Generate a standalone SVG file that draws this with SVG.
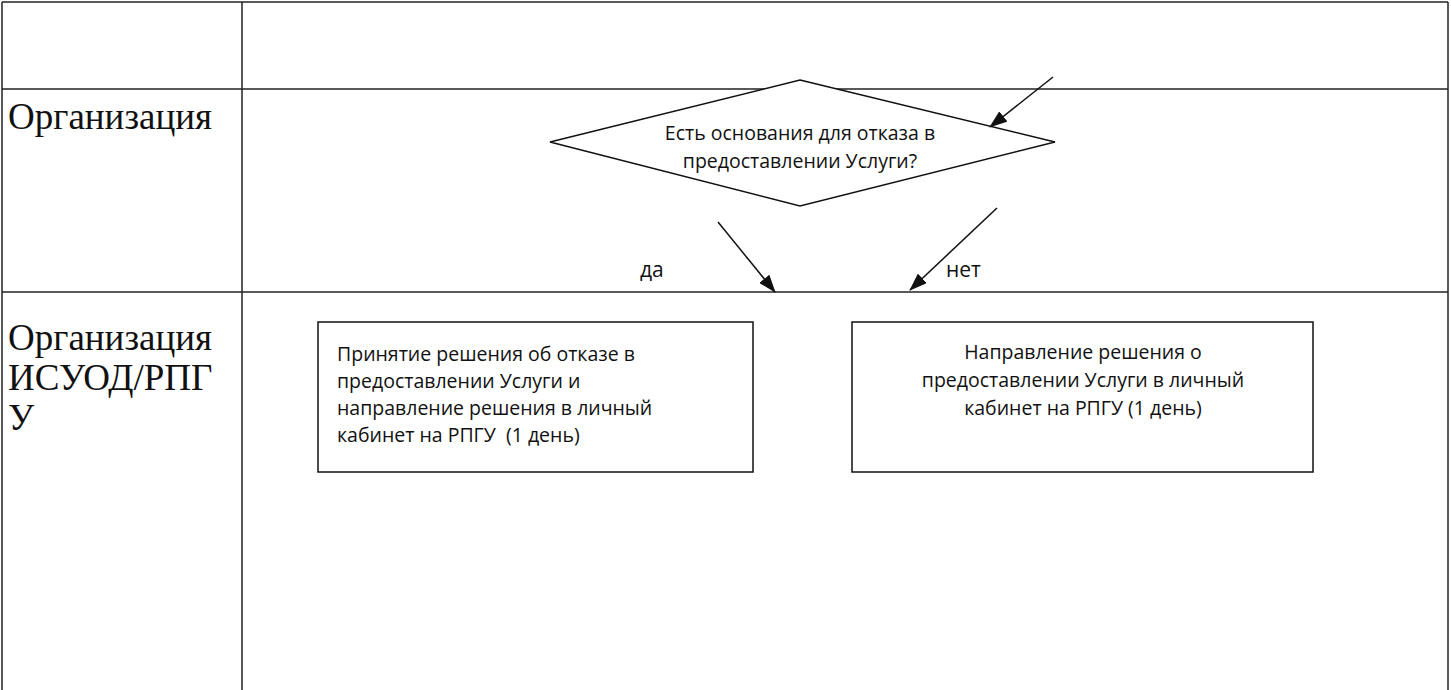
<svg xmlns="http://www.w3.org/2000/svg" width="1451" height="690" viewBox="0 0 1451 690">
<defs>
<style>
.grid{stroke:#222;stroke-width:1.5;fill:none}
.lane{font-family:"Liberation Serif","DejaVu Serif",serif;font-size:37px;fill:#111}
.t{font-family:"Open Sans","Noto Sans",sans-serif;font-size:19.5px;fill:#111}
.lbl{font-family:"Open Sans","Noto Sans",sans-serif;font-size:21px;fill:#111}
.shape{stroke:#111;stroke-width:1.5;fill:#fff}
.conn{stroke:#111;stroke-width:1.5;fill:none;marker-end:url(#ah)}
</style>
<marker id="ah" markerWidth="18" markerHeight="13" refX="17" refY="6.5" orient="auto" markerUnits="userSpaceOnUse" viewBox="0 0 18 13">
<path d="M0,0 L18,6.5 L0,13 z" fill="#111"/>
</marker>
</defs>
<rect width="1451" height="690" fill="#fff"/>
<g id="table">
<line class="grid" x1="2" y1="2" x2="1448" y2="2"/>
<line class="grid" x1="2" y1="2" x2="2" y2="690"/>
<line class="grid" x1="1448" y1="2" x2="1448" y2="690"/>
<line class="grid" x1="242" y1="2" x2="242" y2="690"/>
<line class="grid" x1="2" y1="89" x2="1448" y2="89"/>
<line class="grid" x1="2" y1="292" x2="1448" y2="292"/>
</g>
<g id="lane1">
<text class="lane" x="8" y="129">Организация</text>
</g>
<g id="lane2">
<text class="lane" x="8" y="350">Организация</text>
<text class="lane" x="8" y="390">ИСУОД/РПГ</text>
<text class="lane" x="8" y="430">У</text>
</g>
<g id="decision">
<polygon class="shape" points="800,80 1055,142 800,206 550,142"/>
<text class="t" text-anchor="middle" x="800" y="140">Есть основания для отказа в</text>
<text class="t" text-anchor="middle" x="800" y="168">предоставлении Услуги?</text>
</g>
<g id="refuse">
<rect class="shape" x="318" y="322" width="435" height="150"/>
<text class="t" x="337" y="361">Принятие решения об отказе в</text>
<text class="t" x="337" y="388">предоставлении Услуги и</text>
<text class="t" x="337" y="415">направление решения в личный</text>
<text class="t" x="337" y="442" xml:space="preserve">кабинет на РПГУ  (1 день)</text>
</g>
<g id="grant">
<rect class="shape" x="852" y="322" width="461" height="150"/>
<text class="t" text-anchor="middle" x="1083" y="359">Направление решения о</text>
<text class="t" text-anchor="middle" x="1083" y="387">предоставлении Услуги в личный</text>
<text class="t" text-anchor="middle" x="1083" y="415">кабинет на РПГУ (1 день)</text>
</g>
<g id="connectors">
<line class="conn" x1="1053" y1="77" x2="990" y2="127"/>
<line class="conn" x1="718" y1="222" x2="775" y2="292"/>
<line class="conn" x1="997" y1="208" x2="910" y2="290"/>
<text class="lbl" x="640" y="277">да</text>
<text class="lbl" x="946" y="277">нет</text>
</g>
</svg>
